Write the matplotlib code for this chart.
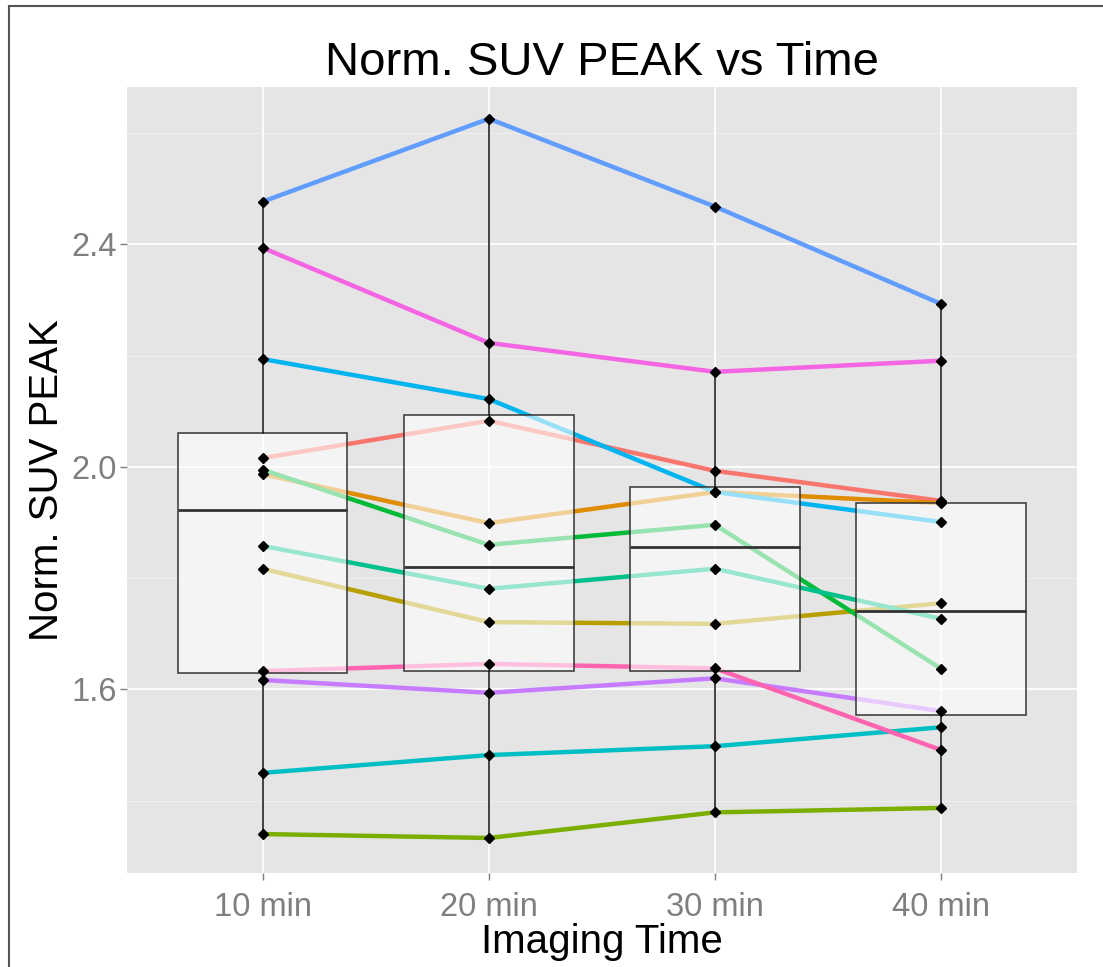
import numpy as np
import matplotlib
matplotlib.use("Agg")
import matplotlib.pyplot as plt
from matplotlib.lines import Line2D

plt.rcParams['font.family'] = ['Liberation Sans', 'DejaVu Sans']

# Temps d'imagerie et valeurs par sujet
times = ["10 min", "20 min", "30 min", "40 min"]
colors = ["#F8766D", "#DE8C00", "#B79F00", "#7CAE00", "#00BA38", "#00C08B",
          "#00BFC4", "#00B4F0", "#619CFF", "#C77CFF", "#F564E3", "#FF64B0"]
red = [2.016, 2.083, 1.993, 1.939]
orange = [1.987, 1.899, 1.955, 1.935]
olive = [1.817, 1.721, 1.718, 1.755]
lime = [1.340, 1.333, 1.379, 1.387]
green = [1.995, 1.860, 1.896, 1.637]
teal = [1.858, 1.781, 1.817, 1.727]
cyan = [1.450, 1.482, 1.498, 1.532]
skyblue = [2.194, 2.122, 1.955, 1.901]
blue = [2.477, 2.626, 2.468, 2.293]
purple = [1.617, 1.594, 1.620, 1.561]
magenta = [2.394, 2.223, 2.171, 2.191]
pink = [1.633, 1.646, 1.638, 1.491]
subjects = [red, orange, olive, lime, green, teal, cyan, skyblue, blue, purple, magenta, pink]

x = np.arange(1, len(times) + 1)
data = np.array(subjects)

fig = plt.figure(figsize=(11.03, 9.67), dpi=100)
ax = fig.add_axes([0.1151, 0.0972, 0.8613, 0.8128])
ax.set_facecolor("#E5E5E5")

# Lignes par sujet
for vals, c in zip(subjects, colors):
    ax.plot(x, vals, color=c, lw=3.2, zorder=2, solid_capstyle='butt')

# Boîtes à moustaches (remplissage blanc semi-transparent)
ax.boxplot([data[:, i] for i in range(len(times))], positions=x, widths=0.75,
           whis=1.5, showfliers=False, showcaps=False, patch_artist=True,
           boxprops=dict(facecolor=(1, 1, 1, 0.6), edgecolor="#333333", lw=1.1),
           medianprops=dict(color="#333333", lw=2),
           whiskerprops=dict(color="#111111", lw=1.1), zorder=3)

# Points
for vals in subjects:
    ax.plot(x, vals, 'D', color='black', ms=5, zorder=5)

ax.set_xlim(0.4, 4.6)
ax.set_ylim(1.270, 2.683)
ax.set_xticks(x)
ax.set_xticklabels(times)
ax.set_yticks([1.6, 2.0, 2.4])
ax.set_yticklabels(["1.6", "2.0", "2.4"])
ax.set_yticks([1.4, 1.8, 2.2, 2.6], minor=True)
ax.grid(True, which='major', color='white', lw=1.3, zorder=0)
ax.grid(True, which='minor', axis='y', color='#F2F2F2', lw=0.6, zorder=0)
ax.set_axisbelow(True)
ax.tick_params(axis='both', which='major', colors='#7F7F7F', labelsize=23.5, length=5, width=1)
ax.tick_params(axis='x', which='major', pad=8.5)
ax.tick_params(axis='y', which='major', pad=2)
ax.tick_params(axis='y', which='minor', length=0)
for s in ax.spines.values():
    s.set_visible(False)

ax.set_title("Norm. SUV PEAK vs Time", fontsize=34, pad=9)
ax.set_xlabel("Imaging Time", fontsize=29, labelpad=0.5)
ax.set_ylabel("Norm. SUV PEAK", fontsize=29, labelpad=4)

# Bordure (haut et gauche)
fig.add_artist(Line2D([9 / 1103, 9 / 1103], [0, 1 - 6 / 967], color='#555555', lw=1.5))
fig.add_artist(Line2D([9 / 1103, 1], [1 - 6 / 967, 1 - 6 / 967], color='#555555', lw=1.5))

fig.savefig("out.png", dpi=100)
